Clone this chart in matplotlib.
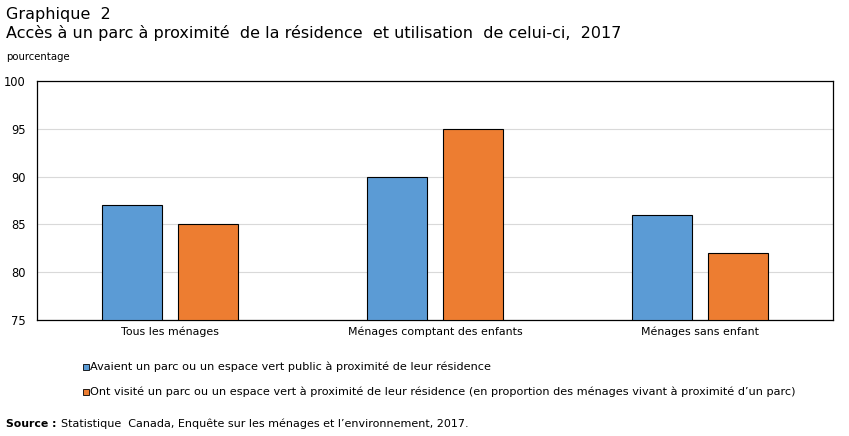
import matplotlib.pyplot as plt
from matplotlib.patches import Rectangle
import numpy as np

categories = ["Tous les ménages", "Ménages comptant des enfants", "Ménages sans enfant"]
avaient_parc = [87, 90, 86]
ont_visite = [85, 95, 82]
series_labels = [
    "Avaient un parc ou un espace vert public à proximité de leur résidence",
    "Ont visité un parc ou un espace vert à proximité de leur résidence (en proportion des ménages vivant à proximité d\u2019un parc)",
]
yticks = [75, 80, 85, 90, 95, 100]

blue = "#5B9BD5"
orange = "#ED7D31"

fig = plt.figure(figsize=(8.49, 4.36), dpi=100)
ax = fig.add_axes([37 / 849, 1 - 320 / 436, 796 / 849, 239 / 436])

x = np.arange(len(categories))
w = 0.226
off = 0.143
ax.bar(x - off, np.array(avaient_parc) - 75, w, bottom=75, color=blue, edgecolor="black", linewidth=0.8, zorder=3)
ax.bar(x + off, np.array(ont_visite) - 75, w, bottom=75, color=orange, edgecolor="black", linewidth=0.8, zorder=3)

ax.set_xlim(-0.5, 2.5)
ax.set_ylim(75, 100)
ax.set_yticks(yticks)
ax.set_xticks(x)
ax.set_xticklabels(categories, fontsize=7.9)
ax.tick_params(axis="y", labelsize=8.3, length=0, pad=8)
ax.tick_params(axis="x", length=0, pad=5)
ax.grid(axis="y", color="#d9d9d9", linewidth=0.8, zorder=0)
for s in ax.spines.values():
    s.set_linewidth(0.9)

fig.text(6 / 849, 1 - 14 / 436, "Graphique  2", fontsize=11.5, va="center")
fig.text(6 / 849, 1 - 33 / 436, "Accès à un parc à proximité  de la résidence  et utilisation  de celui-ci,  2017",
         fontsize=11.5, va="center")
fig.text(6 / 849, 1 - 57 / 436, "pourcentage", fontsize=7.3, va="center")

# legend
for i, (lab, c) in enumerate(zip(series_labels, [blue, orange])):
    yc = 367 + 25 * i
    fig.patches.append(Rectangle((83 / 849, 1 - (yc + 3) / 436), 6 / 849, 6 / 436,
                                 transform=fig.transFigure, facecolor=c, edgecolor="black", linewidth=0.6))
    fig.text(90 / 849, 1 - yc / 436, lab, fontsize=8.1, va="center")

fig.text(6 / 849, 1 - 424 / 436, "Source :", fontsize=7.8, fontweight="bold", va="center")
fig.text(61 / 849, 1 - 424 / 436, "Statistique  Canada, Enquête sur les ménages et l\u2019environnement, 2017.",
         fontsize=8, va="center")

fig.savefig("out.png", dpi=100)
